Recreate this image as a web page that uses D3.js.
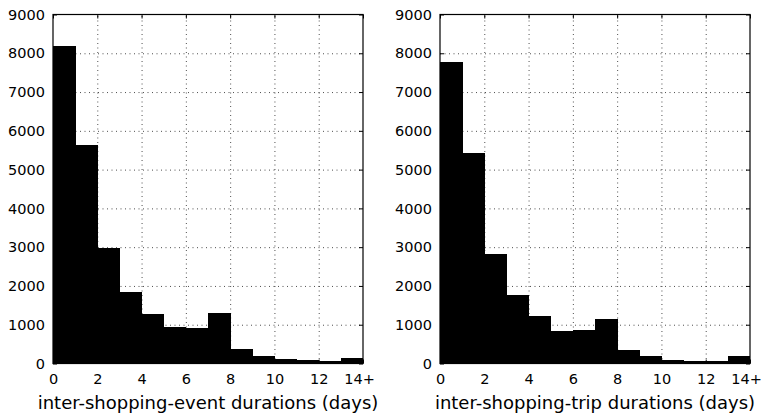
<!DOCTYPE html>
<html>
<head>
<meta charset="utf-8">
<script src="https://cdn.jsdelivr.net/npm/d3@7"></script>
<style>
  body { margin: 0; background: #fff; }
  svg text { font-family: 'DejaVu Sans', sans-serif; fill: #000; }
  .grid line { stroke: #000; stroke-width: 0.7; stroke-dasharray: 1,3.5; }
  .grid path { display: none; }
  .axes path { display: none; }
  .axes line { stroke: #000; }
  .bar { shape-rendering: crispEdges; }
</style>
</head>
<body>
<script>
const W = 764, H = 416;

// bin edges are 0..14, last bin is "14+"
const bins = [0, 1, 2, 3, 4, 5, 6, 7, 8, 9, 10, 11, 12, 13];
const eventCounts = [8190, 5640, 2990, 1845, 1270, 935, 910, 1305, 385, 190, 105, 78, 52, 138];
const tripCounts = [7780, 5420, 2830, 1760, 1235, 840, 865, 1140, 350, 188, 103, 68, 68, 206];
const xTicks = [0, 2, 4, 6, 8, 10, 12, 14];
const xTickLabels = ['0', '2', '4', '6', '8', '10', '12', '14+'];
const yTicks = [0, 1000, 2000, 3000, 4000, 5000, 6000, 7000, 8000, 9000];

const panels = [
    { left: 53, right: 363, counts: eventCounts, label: 'inter-shopping-event durations (days)' },
    { left: 440, right: 750, counts: tripCounts, label: 'inter-shopping-trip durations (days)' }
];
const plotTop = 14.5, plotBottom = 363.5;

const svg = d3.select('body').append('svg')
    .attr('width', W).attr('height', H);

panels.forEach(p => {
    const width = p.right - p.left, height = plotBottom - plotTop;
    const g = svg.append('g').attr('transform', 'translate(' + p.left + ',' + plotTop + ')');

    const xScale = d3.scaleLinear().domain([0, 14]).range([0, width]);
    const yScale = d3.scaleLinear().domain([0, 9000]).range([height, 0]);

    // bars
    g.selectAll('.bar')
        .data(p.counts)
        .enter().append('rect')
        .attr('class', 'bar')
        .attr('x', (d, i) => xScale(bins[i]))
        .attr('width', (d, i) => xScale(bins[i] + 1) - xScale(bins[i]) + (i < bins.length - 1 ? 0.5 : 0))
        .attr('y', d => yScale(d))
        .attr('height', d => height - yScale(d))
        .style('fill', '#000');

    // gridlines (drawn over, like matplotlib classic)
    g.append('g').attr('class', 'grid')
        .attr('transform', 'translate(0,' + height + ')')
        .call(d3.axisBottom(xScale).tickValues(xTicks.slice(1, -1)).tickSize(-height).tickFormat(''));
    g.append('g').attr('class', 'grid')
        .call(d3.axisLeft(yScale).tickValues(yTicks.slice(1, -1)).tickSize(-width).tickFormat(''));

    // axes with inward ticks
    g.append('g').attr('class', 'axes')
        .attr('transform', 'translate(0,' + height + ')')
        .call(d3.axisBottom(xScale).tickValues(xTicks).tickSize(-4).tickPadding(10)
            .tickFormat((d, i) => xTickLabels[i]))
        .selectAll('text')
        .style('font-size', '14.5px')
        .attr('dx', (d, i) => i === xTicks.length - 1 ? -4 : 0);
    g.append('g').attr('class', 'axes')
        .call(d3.axisTop(xScale).tickValues(xTicks).tickSize(-4).tickFormat(''));
    g.append('g').attr('class', 'axes')
        .call(d3.axisLeft(yScale).tickValues(yTicks).tickSize(-4).tickPadding(8).tickFormat(d3.format('d')))
        .selectAll('text').style('font-size', '14.5px');
    g.append('g').attr('class', 'axes')
        .attr('transform', 'translate(' + width + ',0)')
        .call(d3.axisRight(yScale).tickValues(yTicks).tickSize(-4).tickFormat(''));

    // frame
    g.append('rect')
        .attr('width', width).attr('height', height)
        .style('fill', 'none').style('stroke', '#000').style('stroke-width', 1.2);

    // x label
    g.append('text')
        .attr('x', width / 2)
        .attr('y', height + 45)
        .style('text-anchor', 'middle')
        .style('font-size', '18px')
        .text(p.label);
});
</script>
</body>
</html>
